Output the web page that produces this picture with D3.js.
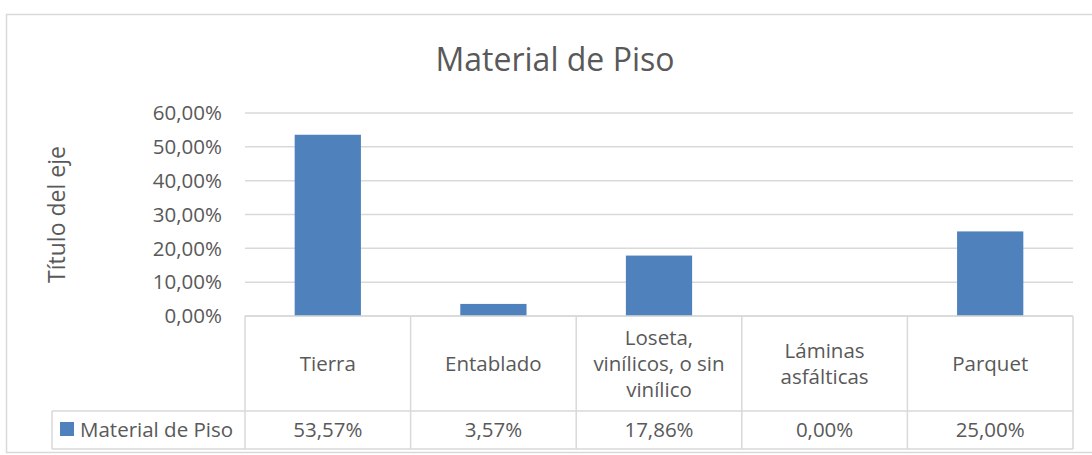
<!DOCTYPE html>
<html>
<head>
<meta charset="utf-8">
<script src="https://cdn.jsdelivr.net/npm/d3@7"></script>
<style>
  body { margin: 0; background: #fff; }
  svg { display: block; font-family: "Open Sans", "Noto Sans", sans-serif; }
</style>
</head>
<body>
<svg id="chart" width="1092" height="455"></svg>
<script>
const CATEGORIES = ["Tierra", "Entablado", "Loseta, vinílicos, o sin vinílico", "Láminas asfálticas", "Parquet"];
const CATEGORY_LINES = [["Tierra"], ["Entablado"], ["Loseta,", "vinílicos, o sin", "vinílico"], ["Láminas", "asfálticas"], ["Parquet"]];
const VALUES = [0.5357, 0.0357, 0.1786, 0.0, 0.25];
const SERIES_NAME = "Material de Piso";
const Y_TICKS = [0, 0.1, 0.2, 0.3, 0.4, 0.5, 0.6];

const BAR_COLOUR = "#4F81BD";
const GRID_COLOUR = "#D9D9D9";
const TEXT_COLOUR = "#595959";

const PLOT_LEFT = 245, PLOT_RIGHT = 1073,
      PLOT_TOP = 113, PLOT_BOTTOM = 316;
const ROW1_BOTTOM = 411, ROW2_BOTTOM = 449, LEGEND_LEFT = 52;
const FONT = 20.5;

const fmt = v => d3.format(".2f")(v * 100).replace(".", ",") + "%";

const svg = d3.select("#chart");

// chart frame
svg.append("rect")
    .attr("x", 6.5).attr("y", 14.5)
    .attr("width", 1200).attr("height", 438)
    .attr("fill", "none")
    .attr("stroke", GRID_COLOUR)
    .attr("stroke-width", 1.5);

const x = d3.scaleBand()
    .domain(CATEGORIES)
    .range([PLOT_LEFT, PLOT_RIGHT])
    .paddingInner(0.6)
    .paddingOuter(0.3);

const xCell = d3.scaleBand()
    .domain(CATEGORIES)
    .range([PLOT_LEFT, PLOT_RIGHT]);

const y = d3.scaleLinear()
    .domain([0, 0.6])
    .range([PLOT_BOTTOM, PLOT_TOP]);

// gridlines
svg.append("g")
    .selectAll("line")
    .data(Y_TICKS)
    .join("line")
    .attr("x1", PLOT_LEFT)
    .attr("x2", PLOT_RIGHT)
    .attr("y1", d => y(d))
    .attr("y2", d => y(d))
    .attr("stroke", GRID_COLOUR)
    .attr("stroke-width", 1.5);

// y tick labels
svg.append("g")
    .selectAll("text")
    .data(Y_TICKS)
    .join("text")
    .attr("x", 222)
    .attr("y", d => y(d))
    .attr("dy", "0.35em")
    .attr("text-anchor", "end")
    .attr("font-size", FONT)
    .attr("fill", TEXT_COLOUR)
    .text(fmt);

// bars
svg.append("g")
    .selectAll("rect")
    .data(VALUES)
    .join("rect")
    .attr("x", (d, i) => x(CATEGORIES[i]))
    .attr("width", x.bandwidth())
    .attr("y", d => y(d))
    .attr("height", d => y(0) - y(d))
    .attr("fill", BAR_COLOUR);

// data table grid
const table = svg.append("g")
    .attr("stroke", GRID_COLOUR)
    .attr("stroke-width", 1.5);

table.append("line")
    .attr("x1", PLOT_LEFT).attr("x2", PLOT_RIGHT)
    .attr("y1", PLOT_BOTTOM).attr("y2", PLOT_BOTTOM);
table.append("line")
    .attr("x1", LEGEND_LEFT).attr("x2", PLOT_RIGHT)
    .attr("y1", ROW1_BOTTOM).attr("y2", ROW1_BOTTOM);
table.append("line")
    .attr("x1", LEGEND_LEFT).attr("x2", PLOT_RIGHT)
    .attr("y1", ROW2_BOTTOM).attr("y2", ROW2_BOTTOM);
table.append("line")
    .attr("x1", LEGEND_LEFT).attr("x2", LEGEND_LEFT)
    .attr("y1", ROW1_BOTTOM).attr("y2", ROW2_BOTTOM);

const edges = CATEGORIES.map(c => xCell(c)).concat([PLOT_RIGHT]);
table.selectAll(".vline")
    .data(edges)
    .join("line")
    .attr("class", "vline")
    .attr("x1", d => d).attr("x2", d => d)
    .attr("y1", PLOT_BOTTOM).attr("y2", ROW2_BOTTOM);

// category labels
const catY = (PLOT_BOTTOM + ROW1_BOTTOM) / 2;
const LINE_H = 26;
svg.append("g")
    .selectAll("text")
    .data(CATEGORY_LINES)
    .join("text")
    .attr("text-anchor", "middle")
    .attr("font-size", FONT)
    .attr("fill", TEXT_COLOUR)
    .each(function(lines, i) {
        const cx = xCell(CATEGORIES[i]) + xCell.bandwidth() / 2;
        const top = catY - (lines.length - 1) * LINE_H / 2;
        d3.select(this).selectAll("tspan")
            .data(lines)
            .join("tspan")
            .attr("x", cx)
            .attr("y", (d, j) => top + j * LINE_H)
            .attr("dy", "0.35em")
            .text(d => d);
    });

// value row
const valY = (ROW1_BOTTOM + ROW2_BOTTOM) / 2;
svg.append("g")
    .selectAll("text")
    .data(VALUES)
    .join("text")
    .attr("x", (d, i) => xCell(CATEGORIES[i]) + xCell.bandwidth() / 2)
    .attr("y", valY)
    .attr("dy", "0.35em")
    .attr("text-anchor", "middle")
    .attr("font-size", FONT)
    .attr("fill", TEXT_COLOUR)
    .text(fmt);

// legend key in table
svg.append("rect")
    .attr("x", 60).attr("y", 422)
    .attr("width", 14).attr("height", 14)
    .attr("fill", BAR_COLOUR);
svg.append("text")
    .attr("x", 80)
    .attr("y", valY)
    .attr("dy", "0.35em")
    .attr("font-size", FONT)
    .attr("fill", TEXT_COLOUR)
    .text(SERIES_NAME);

// title
svg.append("text")
    .attr("x", 555)
    .attr("y", 60)
    .attr("dy", "0.35em")
    .attr("text-anchor", "middle")
    .attr("font-size", 32)
    .attr("fill", TEXT_COLOUR)
    .text(SERIES_NAME);

// y axis title
svg.append("text")
    .attr("transform", "translate(57," + ((PLOT_TOP + PLOT_BOTTOM) / 2) + ") rotate(-90)")
    .attr("dy", "0.35em")
    .attr("text-anchor", "middle")
    .attr("font-size", 23)
    .attr("fill", TEXT_COLOUR)
    .text("Título del eje");
</script>
</body>
</html>
